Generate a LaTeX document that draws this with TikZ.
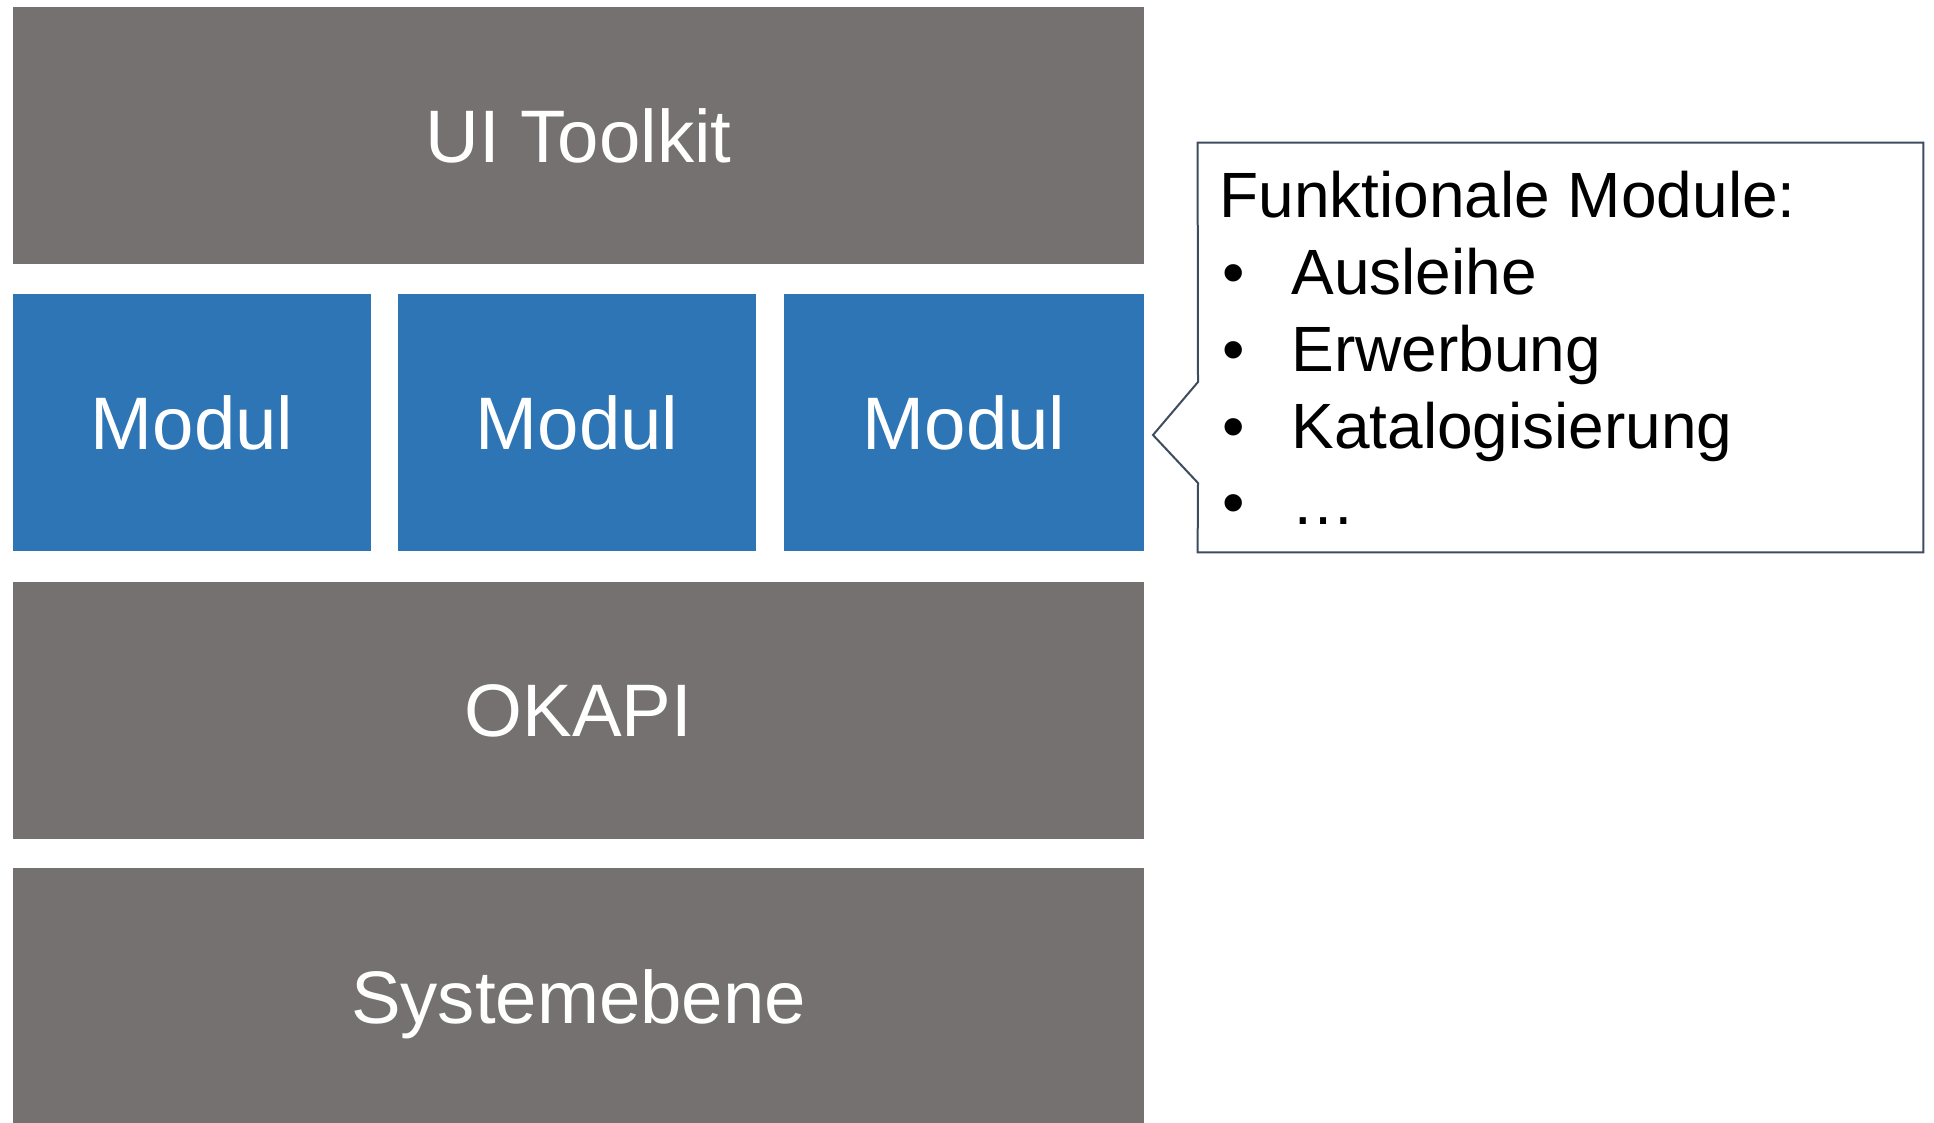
\documentclass[tikz,border=0pt]{standalone}
\usepackage{fontspec}
\setmainfont{Liberation Sans}
\usepackage{tikz}
\usetikzlibrary{positioning}

\definecolor{layergray}{HTML}{767171}
\definecolor{modblue}{HTML}{2E75B6}
\definecolor{framecol}{HTML}{3E4C5E}

\begin{document}
\begin{tikzpicture}[
	x=0.5pt, y=-0.5pt,
	layer/.style={
		fill=layergray, text=white, inner sep=0pt,
		minimum width=565.5pt, minimum height=128.5pt,
		font=\fontsize{37.2}{44}\selectfont,
		text height=26.6pt, text depth=0pt
	},
	modbox/.style={
		layer, fill=modblue, minimum width=179pt
	},
	infotext/.style={
		anchor=base west, inner sep=0pt,
		font=\fontsize{32}{38.4}\selectfont
	},
	calloutline/.style={
		draw=framecol, line width=1pt, line join=miter
	}
]
\useasboundingbox (0,0) rectangle (1934,1123);

% layer stack
\node[layer] (toolkit) at (578.5,135.5) {UI Toolkit};
\node[modbox] (mod1) at (192,422.5) {Modul};
\node[modbox] (mod2) at (577,422.5) {Modul};
\node[modbox, minimum width=180pt] (mod3) at (964,422.5) {Modul};
\node[layer] (okapi) at (578.5,710) {OKAPI};
\node[layer] (system) at (578.5,996.5) {Systemebene};

% callout
\node[minimum width=362.5pt, minimum height=204.5pt, inner sep=0pt] (info) at (1560.5,347.5) {};
\coordinate (tip) at (1153,435);
\coordinate (ptrtop) at (1198,382);
\coordinate (ptrbot) at (1198,483);
\draw[calloutline] (info.north west) -- (info.north east) -- (info.south east)
	-- (info.south west) -- (ptrbot) -- (tip) -- (ptrtop) -- cycle;

\node[infotext] (head) at (1219,218) {Funktionale Module:};
\foreach \txt [count=\i] in {Ausleihe, Erwerbung, Katalogisierung, …} {
	\node[infotext] (bullet\i) at (1222,{218+76.7*\i}) {•};
	\node[infotext] (item\i) at (1291,{218+76.7*\i}) {\txt};
}
\end{tikzpicture}
\end{document}
